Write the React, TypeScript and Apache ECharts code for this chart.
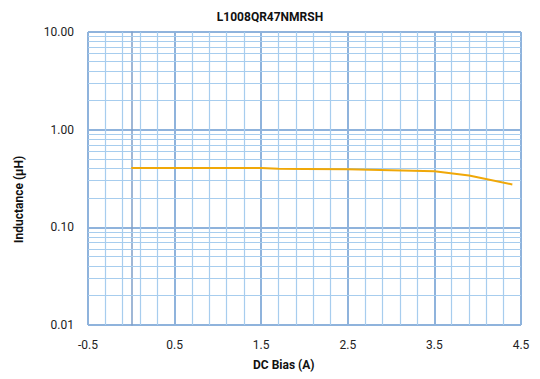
import React, { useEffect, useRef } from "react";
import * as echarts from "echarts";

const chartTitle = "L1008QR47NMRSH";
const xTitle = "DC Bias (A)";
const yTitle = "Inductance (µH)";

const biasA = [0, 0.5, 1.0, 1.5, 1.7, 2.0, 2.5, 3.0, 3.5, 3.9, 4.4];
const inductanceUH = [0.406, 0.406, 0.406, 0.406, 0.397, 0.396, 0.394, 0.385, 0.376, 0.34, 0.275];

const decades = [0.01, 0.1, 1];
const minorSteps = [2, 3, 4, 5, 6, 7, 8, 9];

const minorColor = "#a7cdee";
const majorColor = "#8fb3dc";

export default function App() {
  const ref = useRef<HTMLDivElement>(null);
  useEffect(() => {
    document.body.style.margin = "0";
    if (!ref.current) return;
    const chart = echarts.init(ref.current, undefined, { renderer: "svg" });
    const minorY: number[] = [];
    decades.forEach((d) => minorSteps.forEach((k) => minorY.push(+(d * k).toPrecision(3))));
    const font = "Roboto";
    chart.setOption({
      animation: false,
      backgroundColor: "#ffffff",
      textStyle: { fontFamily: font },
      title: {
        text: chartTitle,
        left: "center",
        top: 6,
        textStyle: { fontFamily: font, fontSize: 12, fontWeight: "bold", color: "#111" },
      },
      graphic: [
        {
          type: "text",
          left: 253,
          top: 359,
          style: { text: xTitle, font: "bold 12px Roboto", fill: "#111" },
        },
        {
          type: "text",
          x: 13,
          y: 243,
          rotation: Math.PI / 2,
          style: { text: yTitle, font: "bold 12px Roboto", fill: "#111" },
        },
      ],
      grid: { left: 88, right: 19, top: 32, bottom: 54, containLabel: false },
      xAxis: {
        type: "value",
        min: -0.5,
        max: 4.5,
        interval: 1,
        axisLine: { show: false, onZero: false },
        axisTick: { show: false },
        axisLabel: {
          margin: 14,
          fontSize: 12,
          color: "#222",
          fontFamily: font,
          formatter: (v: number) => v.toFixed(1),
        },
        splitLine: { show: true, lineStyle: { color: majorColor, width: 2 } },
        minorTick: { show: false, splitNumber: 5 },
        minorSplitLine: { show: true, lineStyle: { color: minorColor, width: 1.2 } },
      },
      yAxis: {
        type: "log",
        logBase: 10,
        min: 0.01,
        max: 10,
        axisLine: { show: true, onZero: true, lineStyle: { color: "#7f9fc9", width: 1.5 } },
        axisTick: { show: false },
        axisLabel: {
          margin: 14,
          fontSize: 12,
          color: "#222",
          fontFamily: font,
          formatter: (v: number) => v.toFixed(2),
        },
        splitLine: { show: true, lineStyle: { color: majorColor, width: 2 } },
      },
      series: [
        {
          type: "line",
          data: [],
          z: 1,
          silent: true,
          markLine: {
            silent: true,
            symbol: ["none", "none"],
            label: { show: false },
            lineStyle: { color: minorColor, width: 1.2, type: "solid" },
            emphasis: { disabled: true },
            data: minorY.map((v) => ({ yAxis: v })),
          },
        },
        {
          type: "line",
          z: 5,
          data: biasA.map((x, i) => [x, inductanceUH[i]]),
          showSymbol: false,
          symbol: "none",
          lineStyle: { color: "#f0a808", width: 2 },
          itemStyle: { color: "#f0a808" },
        },
      ],
    });
    return () => chart.dispose();
  }, []);
  return <div ref={ref} style={{ width: 540, height: 379 }} />;
}
